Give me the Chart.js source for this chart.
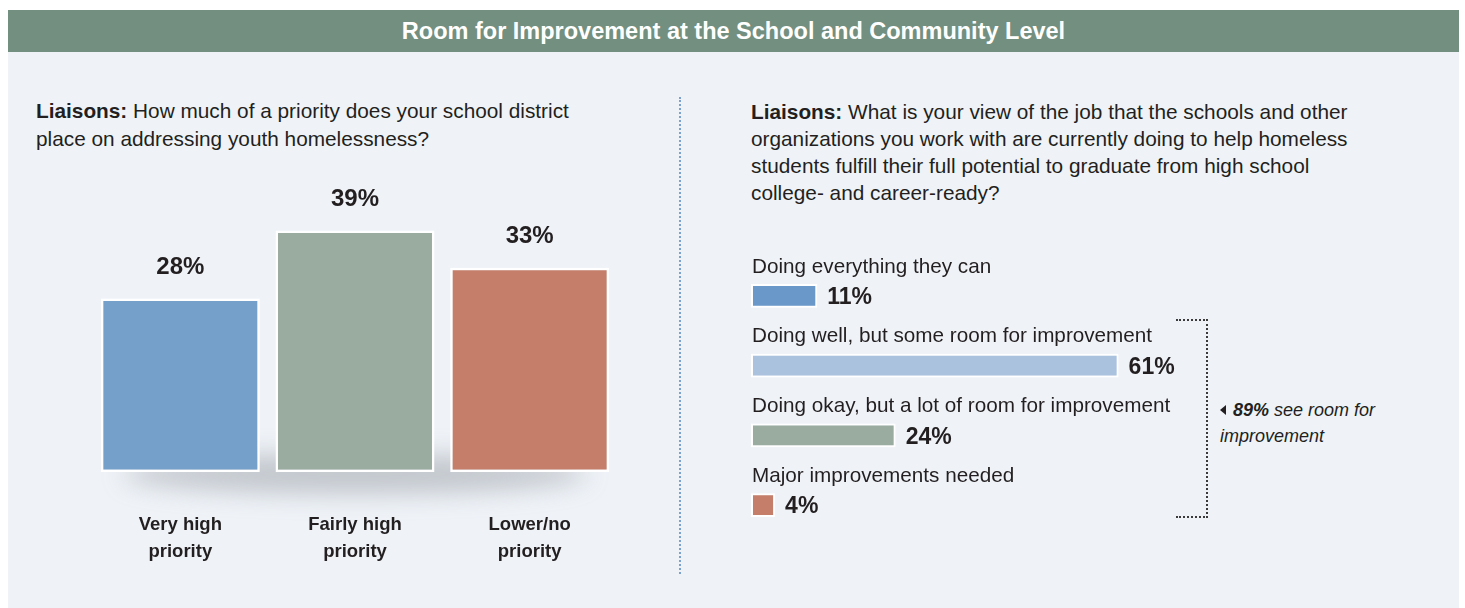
<!DOCTYPE html>
<html><head><meta charset="utf-8">
<script src="https://cdn.jsdelivr.net/npm/chart.js@4.4.0/dist/chart.umd.min.js"></script>
<style>
html,body{margin:0;padding:0;background:#fff;width:1465px;height:608px;overflow:hidden;font-family:"Liberation Sans",Arial,sans-serif;}
#panel{position:absolute;left:8px;top:10px;width:1451px;height:598px;background:#eff3f8;}
#titlebar{position:absolute;left:8px;top:10px;width:1451px;height:42px;background:#738f7f;color:#fff;font-weight:bold;font-size:23.5px;text-align:center;line-height:42px;}
.q{position:absolute;color:#231f20;font-size:20.8px;}
.q b{font-weight:bold;}
#q1{left:36px;top:97px;width:640px;line-height:28px;}
#q2{left:751px;top:98px;width:680px;line-height:27px;}
#divider{position:absolute;left:679px;top:97px;height:477px;border-left:2px dotted #7ba1cf;}
#leftwrap{position:absolute;left:93px;top:150px;width:524px;height:422px;}
#rightwrap{position:absolute;left:751px;top:240px;width:458px;height:300px;}
#bracket{position:absolute;left:1176px;top:319px;width:30px;height:195px;border:2px dotted #3a3a3a;border-left:none;}
#note{position:absolute;left:1220px;top:397px;width:230px;font-size:18px;font-style:italic;line-height:26px;color:#231f20;}
#note .tri{display:inline-block;width:0;height:0;border-top:5px solid transparent;border-bottom:5px solid transparent;border-right:6px solid #231f20;margin-right:7px;vertical-align:1px;}
</style></head>
<body>
<div id="panel"></div>
<div id="titlebar">Room for Improvement at the School and Community Level</div>
<div class="q" id="q1"><b>Liaisons:</b> How much of a priority does your school district<br>place on addressing youth homelessness?</div>
<div id="divider"></div>
<div class="q" id="q2"><b>Liaisons:</b> What is your view of the job that the schools and other<br>organizations you work with are currently doing to help homeless<br>students fulfill their full potential to graduate from high school<br>college- and career-ready?</div>
<div id="leftwrap"><canvas id="left"></canvas></div>
<div id="rightwrap"><canvas id="right"></canvas></div>
<div id="bracket"></div>
<div id="note"><span class="tri"></span><b>89%</b> see room for<br>improvement</div>
<script>
const leftCategories = [["Very high","priority"],["Fairly high","priority"],["Lower/no","priority"]];
const leftValues = [28, 39, 33];
const leftColors = ["#75a0ca", "#9aab9f", "#c47e6a"];

const rightCategories = ["Doing everything they can","Doing well, but some room for improvement","Doing okay, but a lot of room for improvement","Major improvements needed"];
const rightValues = [11, 61, 24, 4];
const rightColors = ["#6a98c8", "#abc2de", "#9aab9f", "#c47e6a"];

const TXT = "#231f20";
const FONT = '"Liberation Sans", Arial, sans-serif';

const shadowPlugin = {
  id: 'shadow',
  beforeDatasetsDraw(chart) {
    const {ctx, chartArea} = chart;
    const cx = (chartArea.left + chartArea.right) / 2;
    ctx.save();
    ctx.filter = 'blur(12px)';
    ctx.fillStyle = 'rgba(120,125,135,0.38)';
    ctx.beginPath();
    ctx.ellipse(cx, chartArea.bottom + 2, (chartArea.right - chartArea.left) / 2 - 30, 20, 0, 0, Math.PI * 2);
    ctx.fill();
    ctx.restore();
  }
};

const leftLabels = {
  id: 'leftLabels',
  afterDatasetsDraw(chart) {
    const {ctx} = chart;
    const meta = chart.getDatasetMeta(0);
    ctx.save();
    ctx.font = 'bold 24px ' + FONT;
    ctx.fillStyle = TXT;
    ctx.textAlign = 'center';
    ctx.textBaseline = 'middle';
    meta.data.forEach((bar, i) => {
      ctx.fillText(leftValues[i] + '%', bar.x, bar.y - 31);
    });
    ctx.restore();
  }
};

new Chart(document.getElementById('left'), {
  type: 'bar',
  data: {
    labels: leftCategories,
    datasets: [{
      data: leftValues,
      backgroundColor: leftColors,
      borderColor: '#ffffff',
      borderWidth: 2.5,
      borderSkipped: false,
      categoryPercentage: 1,
      barPercentage: 0.91
    }]
  },
  options: {
    responsive: true,
    maintainAspectRatio: false,
    animation: false,
    layout: {padding: 0},
    plugins: {legend: {display: false}, tooltip: {enabled: false}},
    scales: {
      y: {display: false, min: 0, max: 52},
      x: {
        grid: {display: false, drawTicks: false},
        border: {display: false},
        ticks: {color: TXT, font: {family: FONT, weight: 'bold', size: 18.5, lineHeight: 1.46}, padding: 39, maxRotation: 0},
        afterFit(s) { s.height = 100; }
      }
    }
  },
  plugins: [shadowPlugin, leftLabels]
});

const rightLabels = {
  id: 'rightLabels',
  afterDatasetsDraw(chart) {
    const {ctx, chartArea} = chart;
    const meta = chart.getDatasetMeta(0);
    ctx.save();
    ctx.fillStyle = TXT;
    ctx.textBaseline = 'middle';
    meta.data.forEach((bar, i) => {
      ctx.textAlign = 'left';
      ctx.font = '20.7px ' + FONT;
      ctx.fillText(rightCategories[i], chartArea.left + 1, bar.y - 29);
      ctx.font = 'bold 23px ' + FONT;
      ctx.fillText(rightValues[i] + '%', bar.x + 10, bar.y + 2);
    });
    ctx.restore();
  }
};

new Chart(document.getElementById('right'), {
  type: 'bar',
  data: {
    labels: rightCategories,
    datasets: [{
      data: rightValues,
      backgroundColor: rightColors,
      borderColor: '#ffffff',
      borderWidth: 2,
      borderSkipped: false,
      categoryPercentage: 1,
      barPercentage: 0.344
    }]
  },
  options: {
    indexAxis: 'y',
    responsive: true,
    maintainAspectRatio: false,
    animation: false,
    layout: {padding: {top: 21, left: 0, right: 0, bottom: 0}},
    plugins: {legend: {display: false}, tooltip: {enabled: false}},
    scales: {
      x: {display: false, min: 0, max: 76},
      y: {display: false}
    }
  },
  plugins: [rightLabels]
});
</script>
</body></html>
